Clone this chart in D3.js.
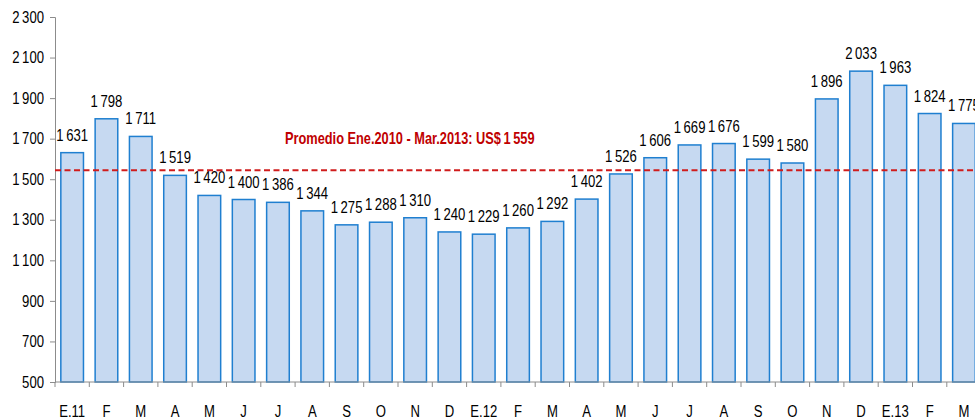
<!DOCTYPE html>
<html>
<head>
<meta charset="utf-8">
<script src="https://cdn.jsdelivr.net/npm/d3@7"></script>
<style>
  body { margin: 0; background: #fff; }
  svg text { font-family: "Liberation Sans", Arial, sans-serif; }
</style>
</head>
<body>
<svg id="chart"></svg>
<script>
const months = ["E.11","F","M","A","M","J","J","A","S","O","N","D",
                "E.12","F","M","A","M","J","J","A","S","O","N","D",
                "E.13","F","M"];
const prices = [1631,1798,1711,1519,1420,1400,1386,1344,1275,1288,1310,1240,
                1229,1260,1292,1402,1526,1606,1669,1676,1599,1580,1896,2033,
                1963,1824,1775];
const yTicks = [500,700,900,1100,1300,1500,1700,1900,2100,2300];
const average = 1559;
const averageLabel = "Promedio Ene.2010 - Mar.2013: US$\u20091\u2009559";

const width = 975, height = 420;
const margin = {top: 17, left: 55, bottom: 38};
const narrow = 0.82; // no narrow font installed, squeeze horizontally

const svg = d3.select("#chart")
  .attr("width", width)
  .attr("height", height);

const data = prices.map((v, i) => ({key: i, month: months[i], value: v}));

const x = d3.scaleBand()
  .domain(data.map(d => d.key))
  .range([margin.left, margin.left + 27 * 34.3])
  .paddingInner(0.34)
  .paddingOuter(0.17);

const y = d3.scaleLinear()
  .domain([500, 2300])
  .range([height - margin.bottom, margin.top]);

const fmt = d3.formatLocale({decimal: ",", thousands: "\u2009", grouping: [3], currency: ["", ""]}).format(",d");

// y axis
const yAxis = svg.append("g")
  .attr("transform", `translate(${margin.left},0)`)
  .call(d3.axisLeft(y).tickValues(yTicks).tickSize(5).tickFormat(fmt));
yAxis.select(".domain").attr("stroke", "#8c8c8c");
yAxis.selectAll(".tick line").attr("stroke", "#8c8c8c");
yAxis.selectAll("text")
  .attr("x", 0)
  .attr("transform", `translate(-11,0) scale(${narrow},1)`)
  .attr("font-size", "16px")
  .attr("fill", "#000");

// bars
svg.append("g")
  .selectAll("rect")
  .data(data)
  .join("rect")
    .attr("x", d => x(d.key))
    .attr("y", d => y(d.value))
    .attr("width", x.bandwidth())
    .attr("height", d => y(500) - y(d.value))
    .attr("fill", "#c6d9f1")
    .attr("stroke", "#1f7fd0")
    .attr("stroke-width", 1.5);

// x axis
const step = x.step();
const bounds = d3.range(28).map(i => margin.left + i * step);
const xg = svg.append("g");
xg.append("line")
  .attr("x1", margin.left).attr("x2", width)
  .attr("y1", y(500)).attr("y2", y(500))
  .attr("stroke", "#8c8c8c");
xg.selectAll(".xt")
  .data(bounds)
  .join("line")
    .attr("class", "xt")
    .attr("x1", d => d).attr("x2", d => d)
    .attr("y1", y(500)).attr("y2", y(500) + 5)
    .attr("stroke", "#8c8c8c");
xg.selectAll(".xl")
  .data(data)
  .join("text")
    .attr("class", "xl")
    .attr("transform", d => `translate(${x(d.key) + x.bandwidth() / 2},${y(500) + 35}) scale(${narrow},1)`)
    .attr("text-anchor", "middle")
    .attr("font-size", "16px")
    .text(d => d.month);

// value labels
svg.append("g")
  .selectAll("text")
  .data(data)
  .join("text")
    .attr("transform", d => `translate(${x(d.key) + x.bandwidth() / 2},${y(d.value) - 12}) scale(${narrow},1)`)
    .attr("text-anchor", "middle")
    .attr("font-size", "16px")
    .text(d => fmt(d.value));

// average line
svg.append("line")
  .attr("x1", margin.left).attr("x2", width)
  .attr("y1", y(average) + 3).attr("y2", y(average) + 3)
  .attr("stroke", "#d01c1c")
  .attr("stroke-width", 2)
  .attr("stroke-dasharray", "6,3.5");

svg.append("text")
  .attr("transform", `translate(285,${y(average) - 23}) scale(0.8,1)`)
  .attr("font-size", "16px")
  .attr("font-weight", "bold")
  .attr("fill", "#c00000")
  .text(averageLabel);
</script>
</body>
</html>
